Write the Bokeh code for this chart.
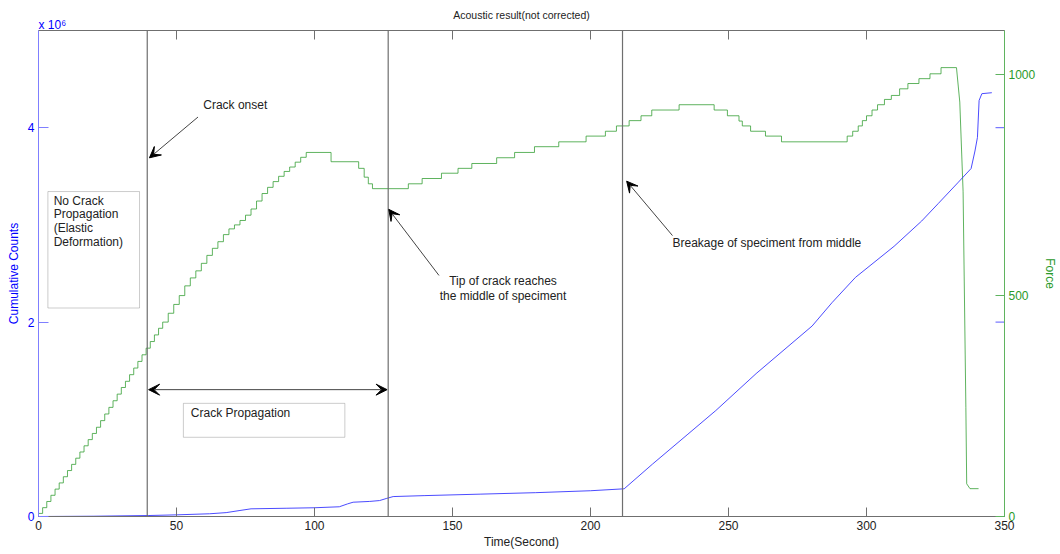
from bokeh.plotting import figure
from bokeh.models import (Range1d, LinearAxis, FixedTicker, Label, Arrow, VeeHead,
                          BoxAnnotation, Span)
from bokeh.embed import file_html
from bokeh.resources import INLINE

# ---------------- data ----------------
# cumulative acoustic counts, in units of 10^6
cum_time = [0, 20, 40, 50, 62, 68, 73, 77, 90, 100, 109, 112, 114, 120, 123.6, 126,
            128.5, 140, 160, 180, 200, 212.2, 222.5, 235, 245.4, 260, 280.3, 287.5,
            296, 310, 320, 326, 333.3, 337.9, 339.3, 340.2, 340.8, 341.8, 345.4]
cum_counts = [0, 0.003, 0.01, 0.017, 0.028, 0.04, 0.062, 0.079, 0.085, 0.09, 0.10, 0.13,
              0.147, 0.155, 0.164, 0.185, 0.205, 0.215, 0.23, 0.245, 0.265, 0.285, 0.54,
              0.84, 1.09, 1.47, 1.96, 2.20, 2.46, 2.78, 3.04, 3.22, 3.44, 3.58, 3.76,
              3.90, 4.28, 4.35, 4.36]

# force (staircase part)
force_time = [0, 1.5, 3, 4.5, 6, 7.5, 9, 10.5, 12, 13.5, 15, 16.5, 18, 19.5, 21, 22.5,
              24, 25.5, 27, 28.5, 30, 31.5, 33, 34.5, 36, 37.5, 39, 40.5, 42, 43.5, 45,
              47, 49, 51, 53, 55, 57, 59, 61, 63, 65, 67, 69, 71, 73, 75, 77, 79, 81,
              83, 85, 87, 89, 91, 93, 95, 97, 106, 116, 118, 119.5, 121, 134, 139, 146,
              152, 157, 166, 172.5, 179.7, 188.5, 198.4, 205.4, 209.4, 214, 218.3,
              222.2, 232.1, 244.8, 249.6, 253.8, 255, 258, 263.4, 269.2, 293, 295, 297,
              298.5, 300, 302, 304, 306.5, 309, 312, 315, 319, 323, 327, 332.6]
force_val = [7, 20, 34, 48, 62, 76, 90, 104, 118, 132, 146, 160, 174, 188, 202, 217,
             232, 247, 262, 277, 292, 306, 321, 336, 351, 366, 381, 396, 411, 426, 440,
             460, 480, 500, 522, 540, 556, 573, 591, 607, 622, 638, 651, 660, 670, 682,
             696, 714, 731, 745, 758, 770, 781, 791, 802, 813, 824, 803, 788, 768, 753,
             742, 753, 765, 777, 788, 799, 812, 824, 837, 848, 861, 872, 884, 896, 907,
             920, 932, 920, 907, 895, 884, 872, 861, 848, 861, 872, 884, 896, 907, 920,
             932, 944, 953, 968, 980, 991, 1002, 1016, 1016]
# force (final breakage drop)
drop_time = [332.6, 333.8, 335, 336, 336.3, 337.5, 340.6]
drop_val = [1016, 938, 735, 247, 74, 63, 63]

event_times = [39.4, 126.7, 211.6]
x_ticks = [0, 50, 100, 150, 200, 250, 300, 350]
count_ticks = [0, 2, 4]
force_ticks = [0, 500, 1000]

X_MAX, C_MAX, F_MAX = 350, 5, 1100

FONT = "Liberation Sans"
BLUE = "#2b2bff"
GREEN = "#2a9a2a"
GRAY = "#6f6f6f"

p = figure(width=1060, height=554, output_backend="svg", toolbar_location=None,
           x_range=Range1d(0, X_MAX), y_range=Range1d(0, C_MAX),
           min_border_left=38, min_border_right=54, min_border_top=30,
           min_border_bottom=38, background_fill_color="white",
           border_fill_color="white", outline_line_color=GRAY)
p.extra_y_ranges = {"force": Range1d(0, F_MAX)}
p.xgrid.visible = False
p.ygrid.visible = False

# exponent marker for the count axis, in the top panel (nearest the frame)
p.add_layout(Label(x=0, y=0, x_units="screen", y_units="screen", text="x 10\u2076",
                   text_font=FONT, text_font_size="12px", text_color="blue",
                   text_baseline="alphabetic", text_align="left", y_offset=6), "above")

p.title.text = "Acoustic result(not corrected)"
p.title.align = "center"
p.title.text_font = FONT
p.title.text_font_size = "10.5px"
p.title.text_font_style = "normal"
p.title.text_color = "#222222"
p.title.standoff = -8

# bottom axis
xa = p.xaxis[0]
xa.ticker = FixedTicker(ticks=x_ticks)
xa.axis_label = "Time(Second)"
xa.axis_line_color = GRAY
xa.major_tick_line_color = GRAY
xa.minor_tick_line_color = None
xa.major_tick_in = 9
xa.major_tick_out = 0
xa.major_label_standoff = 4
xa.axis_label_standoff = 2
xa.major_label_text_font = FONT
xa.major_label_text_font_size = "12px"
xa.major_label_text_color = "#222222"
xa.axis_label_text_font = FONT
xa.axis_label_text_font_size = "12px"
xa.axis_label_text_font_style = "normal"
xa.axis_label_text_color = "#222222"

# left axis
ya = p.yaxis[0]
ya.ticker = FixedTicker(ticks=count_ticks)
ya.axis_label = "Cumulative Counts"
ya.axis_line_color = "#7f7fff"
ya.major_tick_line_color = "#7f7fff"
ya.minor_tick_line_color = None
ya.major_tick_in = 10
ya.major_tick_out = 0
ya.major_label_standoff = 4
ya.axis_label_standoff = 4
ya.major_label_text_font = FONT
ya.major_label_text_font_size = "12px"
ya.major_label_text_color = "blue"
ya.axis_label_text_font = FONT
ya.axis_label_text_font_size = "12px"
ya.axis_label_text_font_style = "normal"
ya.axis_label_text_color = "blue"

# right force axis
fa = LinearAxis(y_range_name="force", ticker=FixedTicker(ticks=force_ticks),
                axis_label="Force")
fa.axis_line_color = "#5fb35f"
fa.major_tick_line_color = "#5fb35f"
fa.minor_tick_line_color = None
fa.major_tick_in = 9
fa.major_tick_out = 0
fa.major_label_standoff = 4
fa.axis_label_standoff = 5
fa.major_label_text_font = FONT
fa.major_label_text_font_size = "12px"
fa.major_label_text_color = GREEN
fa.axis_label_text_font = FONT
fa.axis_label_text_font_size = "12px"
fa.axis_label_text_font_style = "normal"
fa.axis_label_text_color = GREEN
p.add_layout(fa, "right")

# mirrored ticks (top edge for time, right edge for counts), drawn inward
top_tick_len = 9 * C_MAX / 486.0
p.segment(x0=x_ticks[1:-1], y0=[C_MAX] * (len(x_ticks) - 2), x1=x_ticks[1:-1],
          y1=[C_MAX - top_tick_len] * (len(x_ticks) - 2), line_color=GRAY, line_width=1)
right_tick_len = 9 * X_MAX / 968.0
p.segment(x0=[X_MAX] * (len(count_ticks) - 1), y0=count_ticks[1:],
          x1=[X_MAX - right_tick_len] * (len(count_ticks) - 1), y1=count_ticks[1:],
          line_color="#5b5bff", line_width=1)

# event lines
for t in event_times:
    p.add_layout(Span(location=t, dimension="height", line_color=GRAY, line_width=1.2))

# data lines
p.step(force_time, force_val, mode="after", y_range_name="force",
       line_color=GREEN, line_width=1, line_alpha=0.75)
p.line(drop_time, drop_val, y_range_name="force", line_color=GREEN, line_width=1,
       line_alpha=0.75)
p.line(cum_time, cum_counts, line_color=BLUE, line_width=1, line_alpha=0.85)

# annotations
def arrow(x0, y0, x1, y1, both=False):
    end = VeeHead(size=11, fill_color="black", line_color="black")
    start = VeeHead(size=11, fill_color="black", line_color="black") if both else None
    p.add_layout(Arrow(x_start=x0, y_start=y0, x_end=x1, y_end=y1, end=end,
                       start=start, line_color="#444444", line_width=1))

def text(x, y, s, align="left"):
    p.add_layout(Label(x=x, y=y, text=s, text_font=FONT, text_font_size="12px",
                       text_color="#222222", text_baseline="middle", text_align=align))

text(59.7, 4.23, "Crack onset")
arrow(57.8, 4.11, 40.2, 3.69)

p.add_layout(BoxAnnotation(left=3.4, right=36.6, bottom=2.145, top=3.343,
                           fill_alpha=0, line_color="#555555", line_width=1))
for i, s in enumerate(["No Crack", "Propagation", "(Elastic", "Deformation)"]):
    text(5.5, 3.25 - i * 0.143, s)

arrow(39.9, 1.305, 126.3, 1.305, both=True)
p.add_layout(BoxAnnotation(left=52.5, right=111, bottom=0.815, top=1.164,
                           fill_alpha=0, line_color="#555555", line_width=1))
text(55.2, 1.06, "Crack Propagation")

text(168.3, 2.42, "Tip of crack reaches", align="center")
text(168.3, 2.27, "the middle of speciment", align="center")
arrow(145.1, 2.48, 126.9, 3.16)

text(229.7, 2.81, "Breakage of speciment from middle")
arrow(229.7, 2.89, 213.1, 3.45)

open("out.html", "w").write(file_html(p, INLINE))
